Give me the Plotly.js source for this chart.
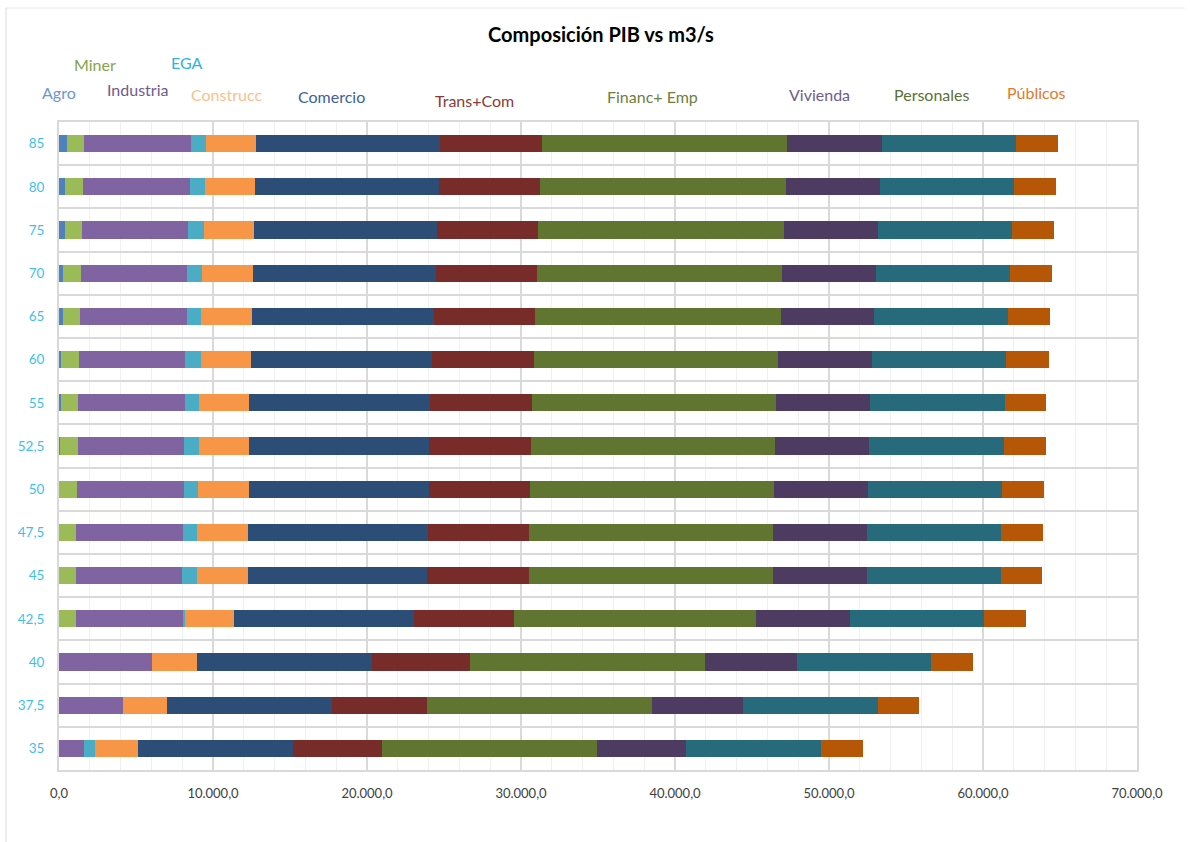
<!DOCTYPE html>
<html>
<head>
<meta charset="utf-8">
<script src="https://cdn.plot.ly/plotly-3.0.1.min.js"></script>
<style>html,body{margin:0;padding:0;background:#fff;}#chart{width:1190px;height:842px;}</style>
</head>
<body>
<div id="chart"></div>
<script>
// Categories (m3/s), bottom to top
var categories = ['35','37,5','40','42,5','45','47,5','50','52,5','55','60','65','70','75','80','85'];

// Series values (same order as categories)
var agro       = [0,    0,    0,    0,    0,    0,    0,    50,   100,  150,  250,  270,  370,  420,  500];
var miner      = [0,    0,    0,    1120, 1120, 1120, 1170, 1170, 1120, 1150, 1120, 1150, 1150, 1150, 1120];
var industria  = [1620, 4130, 6030, 6900, 6870, 6920, 6950, 6900, 6950, 6890, 6950, 6920, 6870, 6950, 6950];
var ega        = [700,  0,    0,    170,  1000, 950,  920,  970,  920,  1000, 920,  950,  1000, 940,  970];
var construcc  = [2810, 2870, 2960, 3190, 3290, 3290, 3290, 3260, 3260, 3260, 3290, 3310, 3260, 3260, 3260];
var comercio   = [10060,10750,11330,11650,11620,11670,11670,11700,11750,11800,11800,11850,11880,11930,11930];
var transCom   = [5800, 6150, 6350, 6500, 6600, 6580, 6560, 6580, 6630, 6580, 6580, 6560, 6580, 6570, 6630];
var financEmp  = [13940,14600,15270,15710,15840,15850,15900,15880,15850,15880,15950,15920,15950,15960,15920];
var vivienda   = [5800, 5930, 6000, 6100, 6100, 6110, 6080, 6080, 6100, 6070, 6070, 6100, 6100, 6100, 6150];
var personales = [8720, 8740, 8670, 8720, 8740, 8710, 8710, 8790, 8720, 8720, 8720, 8720, 8710, 8720, 8720];
var publicos   = [2750, 2690, 2770, 2710, 2680, 2710, 2710, 2680, 2710, 2760, 2710, 2740, 2740, 2740, 2710];

var seriesNames = ['Agro','Miner','Industria','EGA','Construcc','Comercio','Trans+Com','Financ+ Emp','Vivienda','Personales','Públicos'];
var seriesData = [agro, miner, industria, ega, construcc, comercio, transCom, financEmp, vivienda, personales, publicos];
var barColors = ['#4F81BD','#9BBB59','#8064A2','#4BACC6','#F79646','#2C4D75','#772C2A','#5F7530','#4D3B62','#276A7C','#B65708'];
var labelColors = ['#6C97D4','#86A34A','#6F5A8E','#2EB2E0','#FBBF8E','#3D6296','#8B3A38','#6C8040','#6E5C8E','#5B7133','#E6782A'];
// label centres in page pixels
var labelPos = [[59,92],[95,64],[137,89],[187,63],[226,94],[331,97],[474,100],[652,96],[819,94],[932,94],[1036,92]];

var L = 59, R = 53, T = 122, B = 72, W = 1190, H = 842;
var pw = W - L - R, ph = H - T - B;

var traces = seriesData.map(function(vals, i){
  return {
    type: 'bar', orientation: 'h', name: seriesNames[i],
    y: categories, x: vals,
    marker: {color: barColors[i], line: {width: 0}},
    hoverinfo: 'x+name'
  };
});

var annotations = seriesNames.map(function(n, i){
  return {
    xref: 'paper', yref: 'paper',
    x: (labelPos[i][0] - L) / pw, y: (H - B - labelPos[i][1]) / ph,
    xanchor: 'center', yanchor: 'middle', showarrow: false,
    text: n, font: {family: 'Lato, "Open Sans", sans-serif', size: 16, color: labelColors[i]}
  };
});

var layout = {
  width: W, height: H,
  margin: {l: L, r: R, t: T, b: B, pad: 0},
  paper_bgcolor: '#fff', plot_bgcolor: '#fff',
  separators: ',.',
  barmode: 'stack', bargap: 0.6,
  showlegend: false,
  font: {family: 'Lato, "Open Sans", sans-serif'},
  title: {
    text: '<b>Composición PIB vs m3/s</b>',
    font: {family: 'Lato, "Open Sans", sans-serif', size: 20, color: '#000'},
    x: (601) / W, xanchor: 'center', y: 1 - 35 / H, yanchor: 'middle'
  },
  xaxis: {
    range: [0, 70000], dtick: 10000, tick0: 0,
    tickformat: ',.1f',
    showgrid: true, gridcolor: '#D9D9D9', gridwidth: 1.5,
    minor: {dtick: 2000, showgrid: true, gridcolor: '#F0F0F0', gridwidth: 1},
    showline: true, linecolor: '#D9D9D9', linewidth: 2, mirror: true,
    zeroline: false, ticks: '',
    ticklabelstandoff: 10,
    tickfont: {family: 'Lato, "Open Sans", sans-serif', size: 13, color: '#404040'},
    fixedrange: true
  },
  yaxis: {
    type: 'category', categoryorder: 'array', categoryarray: categories,
    tickson: 'boundaries',
    showgrid: true, gridcolor: '#D9D9D9', gridwidth: 2,
    showline: true, linecolor: '#D9D9D9', linewidth: 2, mirror: true,
    zeroline: false, ticks: '',
    ticklabelstandoff: 10,
    tickfont: {family: 'Lato, "Open Sans", sans-serif', size: 13.5, color: '#3DBFEF'},
    fixedrange: true
  },
  annotations: annotations,
  shapes: [
    {type: 'line', xref: 'paper', yref: 'paper', x0: (6 - L) / pw, x1: (6 - L) / pw,
     y0: (H - B - 8) / ph, y1: (H - B - 842) / ph, line: {color: '#D9D9D9', width: 1}},
    {type: 'line', xref: 'paper', yref: 'paper', x0: (6 - L) / pw, x1: (1185 - L) / pw,
     y0: (H - B - 8) / ph, y1: (H - B - 8) / ph, line: {color: '#E8E8E8', width: 1}}
  ]
};

Plotly.newPlot('chart', traces, layout, {displayModeBar: false, staticPlot: true});
</script>
</body>
</html>
